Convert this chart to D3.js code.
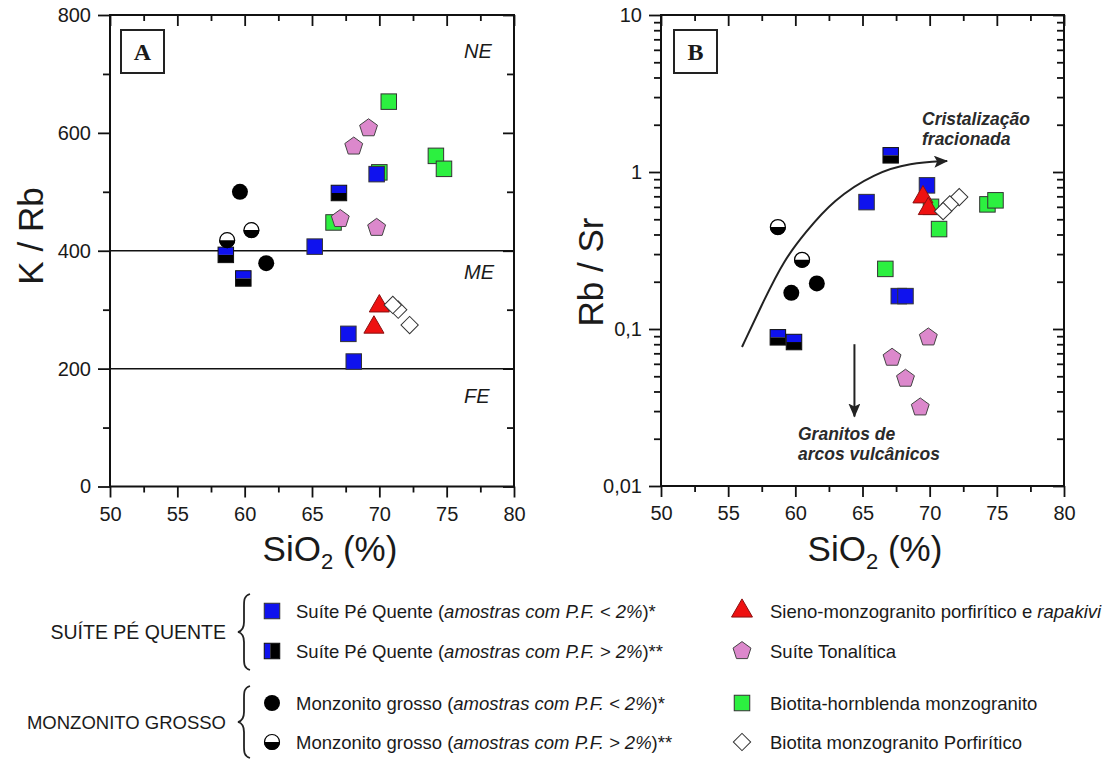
<!DOCTYPE html>
<html><head><meta charset="utf-8">
<script src="https://cdn.jsdelivr.net/npm/d3@7"></script>
<style>
body{margin:0;background:#fff}
text{font-family:"Liberation Sans",Arial,sans-serif;fill:#1a1a1a}
</style>
</head><body>
<svg id="c" width="1109" height="759" xmlns="http://www.w3.org/2000/svg"></svg>
<script>
// ---------------- DATA ----------------
const xTicks = [50, 55, 60, 65, 70, 75, 80];
const xMinor = [52.5, 57.5, 62.5, 67.5, 72.5, 77.5];
const yTicksA = [0, 200, 400, 600, 800];
const yMinorA = [100, 300, 500, 700];
const yTicksB = [0.01, 0.1, 1, 10];
const yTickLabelsB = ["0,01", "0,1", "1", "10"];
const zoneLimitsA = [400, 200];
const zoneNamesA = ["NE", "ME", "FE"];

// Suíte Pé Quente, P.F. < 2%
const pqLowA = [[65.2, 407], [69.8, 530], [67.7, 259], [68.1, 212]];
const pqLowB = [[65.3, 0.643], [69.8, 0.822], [67.7, 0.162], [68.2, 0.162]];
// Suíte Pé Quente, P.F. > 2%
const pqHighA = [[58.6, 393], [59.9, 353], [67.0, 498]];
const pqHighB = [[67.1, 1.277], [58.7, 0.0885], [59.9, 0.0826]];
// Monzonito grosso, P.F. < 2%
const monLowA = [[59.65, 500], [61.6, 379]];
const monLowB = [[59.7, 0.170], [61.6, 0.195]];
// Monzonito grosso, P.F. > 2%
const monHighA = [[58.7, 418], [60.5, 435]];
const monHighB = [[58.7, 0.446], [60.5, 0.276]];
// Sieno-monzogranito porfirítico e rapakivi
const sienoA = [[70.0, 306], [69.6, 270]];
const sienoB = [[69.5, 0.692], [69.9, 0.583]];
// Suíte Tonalítica
const tonalA = [[69.2, 608], [68.1, 577], [67.1, 454], [69.8, 439]];
const tonalB = [[67.2, 0.0657], [68.2, 0.0483], [69.3, 0.0317], [69.9, 0.0885]];
// Biotita-hornblenda monzogranito
const bhmA = [[70.7, 653], [74.2, 561], [74.8, 539], [70.0, 533], [66.6, 448]];
const bhmB = [[74.3, 0.622], [74.9, 0.66], [70.7, 0.433], [66.7, 0.2415], [70.1, 0.6]];
// Biotita monzogranito Porfirítico
const bmpA = [[72.25, 274], [71.4, 300], [71.0, 308]];
const bmpB = [[72.2, 0.692], [71.5, 0.622], [71.0, 0.563]];

// trend annotations (panel B)
const fracCurveB = [[56.03, 0.0768], [57.67, 0.153], [59.16, 0.275], [60.72, 0.409], [62.81, 0.663], [65.93, 0.985], [68.54, 1.141], [71.3, 1.175]];
const arcArrowB = [[64.4, 0.08], [64.4, 0.0277]];

const legendLeft = [
  ["Suíte Pé Quente (", "amostras com P.F. < 2%", ")*"],
  ["Suíte Pé Quente (", "amostras com P.F. > 2%", ")**"],
  ["Monzonito grosso (", "amostras com P.F. < 2%", ")*"],
  ["Monzonito grosso (", "amostras com P.F. > 2%", ")**"]
];
const legendRight = [
  ["Sieno-monzogranito porfirítico e ", "rapakivi", ""],
  ["Suíte Tonalítica", "", ""],
  ["Biotita-hornblenda monzogranito", "", ""],
  ["Biotita monzogranito Porfirítico", "", ""]
];
const groupNames = ["SUÍTE PÉ QUENTE", "MONZONITO GROSSO"];

// ---------------- STYLE ----------------
const C = {blue: "#0f12ee", green: "#2cf040", pink: "#dc88cc", red: "#ee1111", edge: "#333"};

const svg = d3.select("#c");

// custom symbols
const pentagon = {draw(ctx, size) {
  const r = Math.sqrt(size / 2.3776);
  for (let i = 0; i < 5; i++) {
    const a = -Math.PI / 2 + i * 2 * Math.PI / 5;
    const px = r * Math.cos(a), py = r * Math.sin(a);
    i ? ctx.lineTo(px, py) : ctx.moveTo(px, py);
  }
  ctx.closePath();
}};
const triUp = {draw(ctx, size) {
  const s = Math.sqrt(size * 4 / Math.sqrt(3));
  const h = s * Math.sqrt(3) / 2;
  ctx.moveTo(0, -h * 2 / 3); ctx.lineTo(s / 2, h / 3); ctx.lineTo(-s / 2, h / 3); ctx.closePath();
}};

function drawSquare(g, cx, cy, fill) {
  g.append("rect").attr("x", cx - 7.75).attr("y", cy - 7.75).attr("width", 15.5).attr("height", 15.5)
    .attr("fill", fill).attr("stroke", C.edge).attr("stroke-width", 1);
}
function drawHalfSquare(g, cx, cy, vertical) {
  const h = 7.75;
  if (!vertical) {
    g.append("rect").attr("x", cx - h).attr("y", cy - h).attr("width", 2 * h).attr("height", h).attr("fill", C.blue);
    g.append("rect").attr("x", cx - h).attr("y", cy).attr("width", 2 * h).attr("height", h).attr("fill", "#000");
  } else {
    g.append("rect").attr("x", cx - h).attr("y", cy - h).attr("width", 6).attr("height", 2 * h).attr("fill", C.blue);
    g.append("rect").attr("x", cx - h + 6).attr("y", cy - h).attr("width", 2 * h - 6).attr("height", 2 * h).attr("fill", "#000");
  }
  g.append("rect").attr("x", cx - h).attr("y", cy - h).attr("width", 2 * h).attr("height", 2 * h)
    .attr("fill", "none").attr("stroke", "#111").attr("stroke-width", 1);
}
function drawCircle(g, cx, cy) {
  g.append("circle").attr("cx", cx).attr("cy", cy).attr("r", 8).attr("fill", "#000");
}
function drawHalfCircle(g, cx, cy) {
  const r = 8;
  g.append("path").attr("d", `M${cx - r},${cy} A${r},${r} 0 0 1 ${cx + r},${cy} Z`).attr("fill", "#fff");
  g.append("path").attr("d", `M${cx - r},${cy} A${r},${r} 0 0 0 ${cx + r},${cy} Z`).attr("fill", "#000");
  g.append("circle").attr("cx", cx).attr("cy", cy).attr("r", r - 0.5).attr("fill", "none").attr("stroke", "#000").attr("stroke-width", 1.2);
}
function drawSym(g, cx, cy, type, size, fill, stroke) {
  g.append("path").attr("transform", `translate(${cx},${cy})`)
    .attr("d", d3.symbol().type(type).size(size)())
    .attr("fill", fill).attr("stroke", stroke).attr("stroke-width", 1);
}
function drawDiamond(g, cx, cy) {
  g.append("path").attr("transform", `translate(${cx},${cy}) rotate(45)`)
    .attr("d", d3.symbol().type(d3.symbolSquare).size(150)())
    .attr("fill", "#fff").attr("stroke", "#333").attr("stroke-width", 1);
}

function plotSeries(g, x, y, sets) {
  sets.bhm.forEach(d => drawSquare(g, x(d[0]), y(d[1]), C.green));
  sets.pqLow.forEach(d => drawSquare(g, x(d[0]), y(d[1]), C.blue));
  sets.pqHigh.forEach(d => drawHalfSquare(g, x(d[0]), y(d[1]), false));
  sets.monLow.forEach(d => drawCircle(g, x(d[0]), y(d[1])));
  sets.monHigh.forEach(d => drawHalfCircle(g, x(d[0]), y(d[1])));
  sets.tonal.forEach(d => drawSym(g, x(d[0]), y(d[1]), pentagon, 210, C.pink, "#444"));
  sets.sieno.forEach(d => drawSym(g, x(d[0]), y(d[1]), triUp, 175, C.red, "#8a1010"));
  sets.bmp.forEach(d => drawDiamond(g, x(d[0]), y(d[1])));
}

function styleAxis(sel) {
  sel.select(".domain").remove();
  sel.selectAll(".tick line").attr("stroke", "#111").attr("stroke-width", 1.8);
  sel.selectAll(".tick text").attr("font-size", 20).attr("fill", "#1a1a1a")
    .attr("font-family", "Liberation Sans, Arial, sans-serif");
}

function frame(x, y, yMajor, yMinor, yFmt) {
  const [x0, x1] = x.range();
  const [y0, y1] = y.range();
  const g = svg.append("g");
  g.append("g").attr("transform", `translate(0,${y0})`).call(d3.axisBottom(x).tickValues(xTicks).tickSize(11).tickPadding(9)).call(styleAxis);
  g.append("g").attr("transform", `translate(0,${y0})`).call(d3.axisBottom(x).tickValues(xMinor).tickSize(6).tickFormat("")).call(styleAxis);
  g.append("g").attr("transform", `translate(0,${y1})`).call(d3.axisTop(x).tickValues(xTicks).tickSize(-11).tickFormat("")).call(styleAxis);
  g.append("g").attr("transform", `translate(0,${y1})`).call(d3.axisTop(x).tickValues(xMinor).tickSize(-6).tickFormat("")).call(styleAxis);
  g.append("g").attr("transform", `translate(${x0},0)`).call(d3.axisLeft(y).tickValues(yMajor).tickSize(12).tickPadding(7).tickFormat(yFmt)).call(styleAxis);
  g.append("g").attr("transform", `translate(${x0},0)`).call(d3.axisLeft(y).tickValues(yMinor).tickSize(7).tickFormat("")).call(styleAxis);
  g.append("g").attr("transform", `translate(${x1},0)`).call(d3.axisRight(y).tickValues(yMajor).tickSize(-11).tickFormat("")).call(styleAxis);
  g.append("g").attr("transform", `translate(${x1},0)`).call(d3.axisRight(y).tickValues(yMinor).tickSize(-7).tickFormat("")).call(styleAxis);
  g.append("rect").attr("x", x0).attr("y", y1).attr("width", x1 - x0).attr("height", y0 - y1)
    .attr("fill", "none").attr("stroke", "#111").attr("stroke-width", 2);
  return g;
}

function panelBox(x, y, label) {
  svg.append("rect").attr("x", x).attr("y", y).attr("width", 43).attr("height", 43)
    .attr("fill", "#fff").attr("stroke", "#222").attr("stroke-width", 2);
  svg.append("text").attr("x", x + 21.5).attr("y", y + 30).attr("text-anchor", "middle")
    .attr("font-weight", "bold").attr("font-size", 24).style("font-family", "Liberation Serif, serif").text(label);
}

function sioTitle(cx, y) {
  const t = svg.append("text").attr("x", cx).attr("y", y).attr("text-anchor", "middle").attr("font-size", 35);
  t.append("tspan").text("SiO");
  t.append("tspan").attr("font-size", 22).attr("dy", 8).text("2");
  t.append("tspan").attr("dy", -8).text(" (%)");
}

// ---------------- PANEL A ----------------
const xA = d3.scaleLinear().domain([50, 80]).range([110, 514]);
const yA = d3.scaleLinear().domain([0, 800]).range([486.5, 15]);
frame(xA, yA, yTicksA, yMinorA, d => d);
const gA = svg.append("g");
zoneLimitsA.forEach(v => gA.append("line").attr("x1", xA(50)).attr("x2", xA(80)).attr("y1", yA(v)).attr("y2", yA(v))
  .attr("stroke", "#111").attr("stroke-width", 1.5));
const zoneY = [yA(800) + 43, yA(400) + 28, yA(200) + 34];
zoneNamesA.forEach((n, i) => gA.append("text").attr("x", 464).attr("y", zoneY[i]).attr("font-size", 20)
  .attr("font-style", "italic").text(n));
plotSeries(gA, xA, yA, {pqLow: pqLowA, pqHigh: pqHighA, monLow: monLowA, monHigh: monHighA, sieno: sienoA, tonal: tonalA, bhm: bhmA, bmp: bmpA});
panelBox(121, 30, "A");
svg.append("text").attr("transform", "translate(43,236) rotate(-90)").attr("text-anchor", "middle").attr("font-size", 35).text("K / Rb");
sioTitle(330, 561);

// ---------------- PANEL B ----------------
const xB = d3.scaleLinear().domain([50, 80]).range([661, 1064]);
const yB = d3.scaleLog().domain([0.01, 10]).range([486, 15]);
const yMinorB = [];
[0.01, 0.1, 1].forEach(dec => d3.range(2, 10).forEach(k => yMinorB.push(dec * k)));
frame(xB, yB, yTicksB, yMinorB, (d, i) => yTickLabelsB[i]);
const gB = svg.append("g");
svg.append("defs").append("marker").attr("id", "ah").attr("viewBox", "0 0 14 12").attr("refX", 13).attr("refY", 6)
  .attr("markerWidth", 14).attr("markerHeight", 12).attr("markerUnits", "userSpaceOnUse").attr("orient", "auto")
  .append("path").attr("d", "M0,0 L14,6 L0,12 L3,6 Z").attr("fill", "#222");
gB.append("path").datum(fracCurveB)
  .attr("d", d3.line().x(d => xB(d[0])).y(d => yB(d[1])).curve(d3.curveBasis))
  .attr("fill", "none").attr("stroke", "#222").attr("stroke-width", 2).attr("marker-end", "url(#ah)");
gB.append("path").datum(arcArrowB)
  .attr("d", d3.line().x(d => xB(d[0])).y(d => yB(d[1])))
  .attr("fill", "none").attr("stroke", "#222").attr("stroke-width", 2).attr("marker-end", "url(#ah)");
plotSeries(gB, xB, yB, {pqLow: pqLowB, pqHigh: pqHighB, monLow: monLowB, monHigh: monHighB, sieno: sienoB, tonal: tonalB, bhm: bhmB, bmp: bmpB});
panelBox(674, 30, "B");
const ann = (x, y, s) => svg.append("text").attr("x", x).attr("y", y).attr("font-size", 17.5).attr("font-weight", "bold")
  .attr("font-style", "italic").style("fill", "#2a2a2a").text(s);
ann(922, 125, "Cristalização"); ann(922, 145, "fracionada");
ann(798, 440, "Granitos de"); ann(798, 460, "arcos vulcânicos");
svg.append("text").attr("transform", "translate(603,272) rotate(-90)").attr("text-anchor", "middle").attr("font-size", 35).text("Rb / Sr");
sioTitle(875, 561);

// ---------------- LEGEND ----------------
const lg = svg.append("g");
const rowsY = [611, 651, 703, 742];
function legText(x, y, parts) {
  const t = lg.append("text").attr("x", x).attr("y", y + 6.5).attr("font-size", 18.5);
  t.append("tspan").text(parts[0]);
  if (parts[1]) t.append("tspan").attr("font-style", "italic").text(parts[1]);
  if (parts[2]) t.append("tspan").text(parts[2]);
}
legendLeft.forEach((p, i) => legText(296, rowsY[i], p));
legendRight.forEach((p, i) => legText(770, rowsY[i], p));
drawSquare(lg, 272, rowsY[0], C.blue);
drawHalfSquare(lg, 272, rowsY[1], true);
drawCircle(lg, 272, rowsY[2]);
drawHalfCircle(lg, 272, rowsY[3]);
drawSym(lg, 742, rowsY[0], triUp, 190, C.red, "#8a1010");
drawSym(lg, 742, rowsY[1], pentagon, 210, C.pink, "#444");
drawSquare(lg, 742, rowsY[2], C.green);
drawDiamond(lg, 742, rowsY[3]);
const groupSize = [19.5, 18.5];
groupNames.forEach((n, i) => lg.append("text").attr("x", 226).attr("y", [639, 729][i]).attr("text-anchor", "end")
  .attr("font-size", groupSize[i]).text(n));
function brace(x, yt, yb) {
  const ym = (yt + yb) / 2;
  const d = `M${x + 6},${yt} C${x},${yt + 2} ${x},${yt + 6} ${x},${yt + 12} L${x},${ym - 10} C${x},${ym - 4} ${x - 2},${ym - 1} ${x - 6},${ym}` +
    ` C${x - 2},${ym + 1} ${x},${ym + 4} ${x},${ym + 10} L${x},${yb - 12} C${x},${yb - 6} ${x},${yb - 2} ${x + 6},${yb}`;
  lg.append("path").attr("d", d).attr("fill", "none").attr("stroke", "#222").attr("stroke-width", 1.8);
}
brace(244, 594, 670);
brace(244, 686, 758);
</script>
</body></html>
